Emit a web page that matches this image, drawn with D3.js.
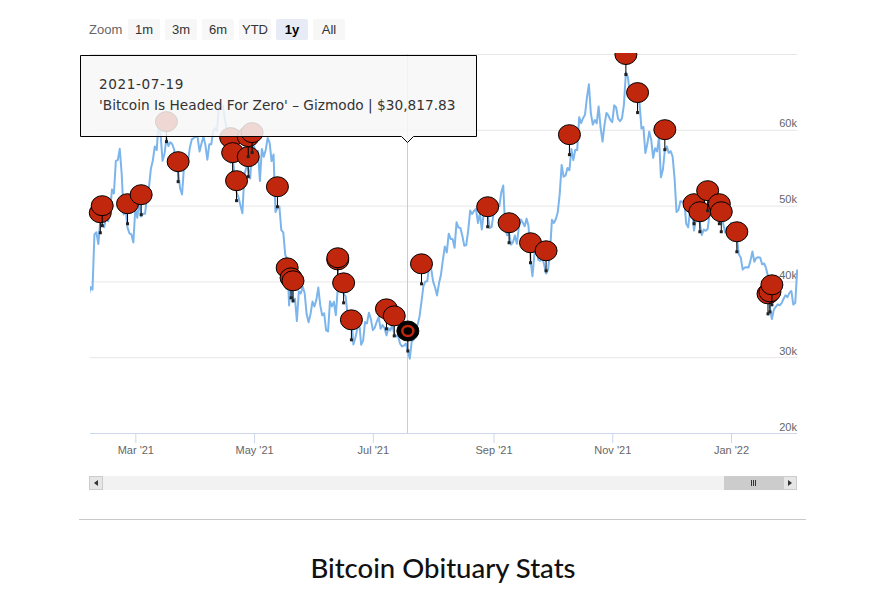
<!DOCTYPE html>
<html><head><meta charset="utf-8">
<script src="https://cdn.jsdelivr.net/npm/d3@7"></script>
<style>
body{margin:0;background:#fff;}
svg{display:block;}
</style></head><body>
<svg id="c" width="872" height="594"></svg>
<script>
// ---------- data ----------
const startDate = "2021-02-05";
const closesFeb21 = [38100,39250,38900,46200,46480,44920,47910,47500,47150,48590,47940,49130,52120,51600,55900,56000,57490,54200,48820,49700,47090,46340,46190,45140];
const closesMar21 = [49630,48380,50540,48560,48930,48910,51210,52370,54880,55960,57800,57330,61240,59300,55910,56830,58890,57860,58350,58100,57350,54530,54520,52290,51460,55080,55820,55770,57630,58730,58910];
const closesApr21 = [59100,59000,57150,58190,59130,57990,56050,58090,58090,59770,60200,59890,63500,62970,63200,61380,60000,56150,55630,56470,53900,51760,51090,50050,49000,54020,55040,54840,53560,57750];
const closesMay21 = [57830,56630,57210,53240,57470,56430,57380,58930,58280,55880,56750,49150,49720,49880,46760,46460,43540,42910,36830,40630,37290,37720,34770,38700,38400,39290,38440,35690,34620,35680,37340];
const closesJun21 = [36690,37570,39190,36830,35520,35800,33550,33400,37390,36690,37310,35550,39100,40520,40140,38350,38050,35790,35480,35600,31680,32510,33720,34660,31640,32160,34640,34460,35870,35040];
const closesJul21 = [33570,33900,34670,35290,33750,34240,33860,32880,33820,33520,34260,33090,32730,32820,31780,31420,31530,31800,30817.83,29810,32110,32310,33580,34290,35380,37340,39410,39990,40020,42240,41630];
const closesAug21 = [39970,39200,38150,39750,40870,42840,44610,43820,46290,45600,45580,44430,47790,47100,47050,45990,44700,44800,46720,49340,48900,49320,49550,47710,48990,46850,49070,48900,48830,47050,47170];
const closesSep21 = [48850,49330,50030,49940,51770,52660,46870,46090,46400,44850,45170,46060,44960,47090,48180,47780,47270,48280,47260,42840,40690,43570,44900,42840,42720,43210,42240,41030,41520,43790];
const closesOct21 = [48120,47710,48200,49110,51510,55360,53810,53970,54960,54660,57470,56000,57370,57350,61670,60880,61530,62000,64280,66000,62210,60690,61290,60860,63080,60330,58450,60620,62230,61890,61320];
const closesNov21 = [61000,63230,62940,61450,61130,61530,63330,67570,66970,64880,64860,64160,64470,65470,63560,60160,60370,56940,58120,59760,58700,56310,57570,57160,58960,53730,54720,57270,57810,56950];
const closesDec21 = [57180,56480,53600,49150,49400,50580,50470,50640,47590,47140,49390,50050,46700,48340,48860,47630,46130,46830,46680,46910,48940,48630,50780,50820,50430,50810,50640,47590,46440,47180,46300];
const closesJan22 = [47690,47350,46460,45900,43570,43160,41560,41820,41870,41830,42740,43950,42590,43100,43180,43110,42250,42370,41740,40680,36460,35030,36280,36650,36950,36850,37140,37710,38170,37920,38480];
const closesFeb22 = [38740,36950,37150,41570];

const flagDates = ["2021-02-11","2021-02-12","2021-02-25","2021-03-04","2021-03-17","2021-03-23","2021-04-19","2021-04-20","2021-04-22","2021-04-28","2021-04-28","2021-04-30","2021-05-13","2021-05-18","2021-05-20","2021-05-21","2021-06-13","2021-06-13","2021-06-16","2021-06-20","2021-07-08","2021-07-12","2021-07-26","2021-08-29","2021-09-09","2021-09-20","2021-09-28","2021-10-10","2021-11-08","2021-11-14","2021-11-28","2021-12-13","2021-12-16","2021-12-20","2021-12-26","2021-12-27","2022-01-04","2022-01-20","2022-01-21","2022-01-22"];
const flagPrices = [46420,47350,47610,48800,58440,53160,56330,54350,50650,53820,56460,56990,49850,39150,37830,37440,40200,40480,37170,32290,33740,32810,39680,47210,45100,42460,41400,56720,67290,62270,57380,47610,46550,49330,47610,46550,43910,35720,35980,36910];

const hoverDate = "2021-07-19";
const hoverTitle = "'Bitcoin Is Headed For Zero' – Gizmodo";
const hoverPrice = 30817.83;

const yGridTicks = [20000,30000,40000,50000,60000,70000];
const yLabelTicks = [20000,30000,40000,50000,60000];
const xTickDates = ["2021-03-01","2021-05-01","2021-07-01","2021-09-01","2021-11-01","2022-01-01"];
const zoomButtons = ["1m","3m","6m","YTD","1y","All"];
const selectedButton = "1y";
const chartTitle = "Bitcoin Obituary Stats";

// ---------- build ----------
const parse = d3.utcParse("%Y-%m-%d");
const closes = [].concat(closesFeb21,closesMar21,closesApr21,closesMay21,closesJun21,closesJul21,closesAug21,closesSep21,closesOct21,closesNov21,closesDec21,closesJan22,closesFeb22);
const t0 = parse(startDate);
const series = closes.map((v,i)=>({date:d3.utcDay.offset(t0,i), value:v}));
const flags = flagDates.map((d,i)=>({date:parse(d), value:flagPrices[i]}));

const svg = d3.select("#c");
const L = 90, R = 797, T = 54, B = 433;
const x = d3.scaleUtc().domain([t0, series[series.length-1].date]).range([88.6, 797.2]);
const y = d3.scaleLinear().domain([20000,70000]).range([B, T]);

const defs = svg.append("defs");
defs.append("clipPath").attr("id","plotclip").append("rect").attr("x",L).attr("y",T).attr("width",R-L+1).attr("height",B-T);
defs.append("clipPath").attr("id","flagclip").append("rect").attr("x",0).attr("y",T-1).attr("width",872).attr("height",B-T+20);

// zoom buttons
svg.append("text").attr("x",89).attr("y",34).attr("fill","#666").style("font","13px 'Liberation Sans', Arial, sans-serif").text("Zoom");
const bg = svg.append("g").selectAll("g").data(zoomButtons).join("g")
  .attr("transform",(d,i)=>`translate(${128+i*37},19)`);
bg.append("rect").attr("width",32).attr("height",21).attr("rx",2)
  .attr("fill",d=>d===selectedButton?"#e6ebf5":"#f7f7f7");
bg.append("text").attr("x",16).attr("y",15).attr("text-anchor","middle")
  .attr("fill",d=>d===selectedButton?"#000":"#333")
  .style("font",d=>(d===selectedButton?"bold ":"")+"13px 'Liberation Sans', Arial, sans-serif").text(d=>d);

// grid + y labels
const yAxis = d3.axisLeft(y).tickValues(yGridTicks).tickSize(R-L).tickFormat(d=>yLabelTicks.includes(d)?(d/1000)+"k":"");
const gy = svg.append("g").attr("transform",`translate(${R},0)`).call(yAxis);
gy.select(".domain").remove();
gy.selectAll(".tick line").attr("stroke","#e6e6e6");
gy.selectAll(".tick text").attr("x",0).attr("dy",-3).attr("text-anchor","end")
  .attr("fill","#666").style("font","11px 'Liberation Sans', Arial, sans-serif");

// crosshair
const hx = x(parse(hoverDate));
svg.append("line").attr("x1",Math.round(hx)-0.5).attr("x2",Math.round(hx)-0.5).attr("y1",T).attr("y2",B).attr("stroke","#cccccc").attr("stroke-width",1);

// x axis
const xAxis = d3.axisBottom(x).tickValues(xTickDates.map(parse)).tickSize(10).tickFormat(d3.utcFormat("%b '%y"));
const gx = svg.append("g").attr("transform",`translate(0,${B})`).call(xAxis);
gx.select(".domain").attr("d",`M${L},0.5H${R}`).attr("stroke","#ccd6eb");
gx.selectAll(".tick line").attr("stroke","#ccd6eb");
gx.selectAll(".tick text").attr("fill","#666").style("font","11px 'Liberation Sans', Arial, sans-serif").attr("y",13);

// line
const line = d3.line().x(d=>x(d.date)).y(d=>y(d.value));
svg.append("path").datum(series).attr("clip-path","url(#plotclip)")
  .attr("d",line).attr("fill","none").attr("stroke","#7cb5ec").attr("stroke-width",2).attr("stroke-linejoin","round");

// flags
const fg = svg.append("g").attr("clip-path","url(#flagclip)");
const fl = fg.selectAll("g").data(flags).join("g")
  .attr("transform",d=>`translate(${x(d.date)},${y(d.value)})`);
fl.append("line").attr("x1",0).attr("x2",0).attr("y1",0).attr("y2",-11).attr("stroke","#000").attr("stroke-width",1);
fl.append("rect").attr("x",-1.5).attr("y",-1.5).attr("width",3).attr("height",3).attr("fill","#222");
fl.append("ellipse").attr("cx",0).attr("cy",-20).attr("rx",11).attr("ry",10)
  .attr("fill","#c1270c").attr("stroke","#000").attr("stroke-width",1);

// hovered flag
const hy = y(hoverPrice);
const hg = svg.append("g").attr("transform",`translate(${hx},${hy})`);
hg.append("line").attr("y1",0).attr("y2",-11).attr("stroke","#000");
hg.append("rect").attr("x",-1.5).attr("y",-1.5).attr("width",3).attr("height",3).attr("fill","#222");
hg.append("ellipse").attr("cy",-20).attr("rx",11).attr("ry",10).attr("fill","#000").attr("stroke","#000");
hg.append("ellipse").attr("cy",-20).attr("rx",5.5).attr("ry",5).attr("fill","#000").attr("stroke","#c1270c").attr("stroke-width",2.5);

// tooltip
const tx0 = 80.5, tx1 = 476.5, ty0 = 55.5, ty1 = 136.5, px = Math.round(hx)-0.5;
svg.append("path")
  .attr("d",`M${tx0},${ty0}H${tx1}V${ty1}H${px+6}L${px},${ty1+6}L${px-6},${ty1}H${tx0}Z`)
  .attr("fill","rgba(247,247,247,0.85)").attr("stroke","#000").attr("stroke-width",1);
const fmt = d3.format(",.2f");
svg.append("text").attr("x",99).attr("y",89).attr("fill","#333")
  .style("font","13.6px 'DejaVu Sans', Verdana, sans-serif").style("letter-spacing","0.6px")
  .text(d3.utcFormat("%Y-%m-%d")(parse(hoverDate)));
svg.append("text").attr("x",99).attr("y",110).attr("fill","#333")
  .style("font","13.7px 'DejaVu Sans', Verdana, sans-serif")
  .text(`${hoverTitle} | $${fmt(hoverPrice)}`);

// scrollbar
const sb = svg.append("g");
sb.append("rect").attr("x",89.5).attr("y",476.5).attr("width",707).attr("height",13).attr("fill","#f2f2f2").attr("stroke","#f2f2f2");
sb.append("rect").attr("x",89.5).attr("y",476.5).attr("width",13).attr("height",13).attr("fill","#e6e6e6").attr("stroke","#cccccc");
sb.append("path").attr("d","M94,483L98,480V486Z").attr("fill","#333");
sb.append("rect").attr("x",724.5).attr("y",476.5).attr("width",58).attr("height",13).attr("fill","#cccccc").attr("stroke","#cccccc");
[-2,0,2].forEach(o=>sb.append("line").attr("x1",753.5+o).attr("x2",753.5+o).attr("y1",480).attr("y2",486).attr("stroke","#333"));
sb.append("rect").attr("x",783.5).attr("y",476.5).attr("width",13).attr("height",13).attr("fill","#e6e6e6").attr("stroke","#cccccc");
sb.append("path").attr("d","M792,483L788,480V486Z").attr("fill","#333");

// separator and title
svg.append("line").attr("x1",79).attr("x2",806).attr("y1",519.5).attr("y2",519.5).attr("stroke","#c8c8c8");
svg.append("text").attr("x",443).attr("y",578).attr("text-anchor","middle").attr("fill","#111")
  .style("font","500 27.5px Lato, 'Open Sans', sans-serif").text(chartTitle);
</script>
</body></html>
